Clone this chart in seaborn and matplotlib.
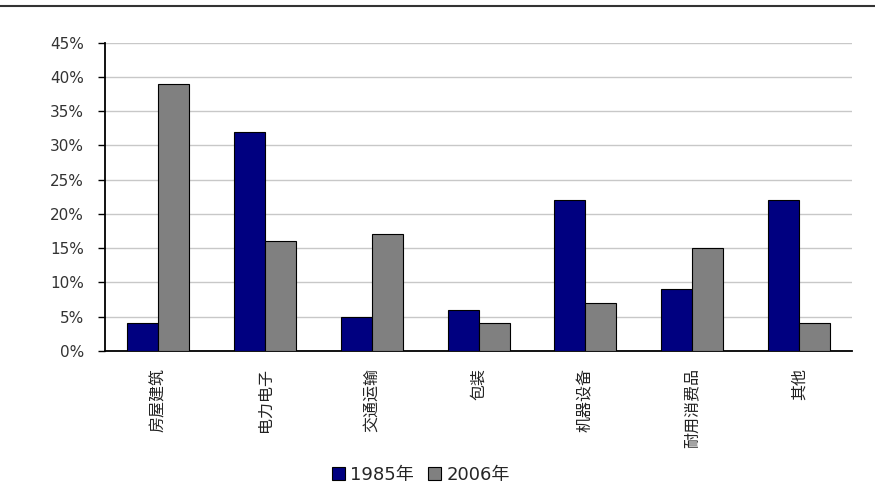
import numpy as np
import pandas as pd
import matplotlib
matplotlib.use("Agg")
import matplotlib.pyplot as plt
import seaborn as sns
from matplotlib.ticker import PercentFormatter

sns.set_style("white")
plt.rcParams['font.family'] = ['DejaVu Sans', 'Noto Sans CJK SC']

# Data
categories = ['房屋建筑', '电力电子', '交通运输', '包装', '机器设备', '耐用消费品', '其他']
share_1985 = [4, 32, 5, 6, 22, 9, 22]
share_2006 = [39, 16, 17, 4, 7, 15, 4]
series = ['1985年', '2006年']
colors = ['#000080', '#808080']

df = pd.DataFrame({
    'category': categories * 2,
    'share': share_1985 + share_2006,
    'year': [series[0]] * len(categories) + [series[1]] * len(categories),
})

fig = plt.figure(figsize=(8.75, 4.97), dpi=100)
ax = fig.add_axes([0.12, 0.294, 0.854, 0.62])

sns.barplot(data=df, x='category', y='share', hue='year', palette=colors,
            width=0.58, gap=0, edgecolor='black', linewidth=0.8, ax=ax,
            saturation=1, zorder=3)

ax.set_ylim(0, 45)
ax.set_yticks(np.arange(0, 46, 5))
ax.yaxis.set_major_formatter(PercentFormatter(decimals=0))
ax.yaxis.grid(True, color='#c8c8c8', linewidth=1, zorder=0)
ax.set_xlim(-0.5, len(categories) - 0.5)
ax.set_xlabel('')
ax.set_ylabel('')

for side in ['top', 'right']:
    ax.spines[side].set_visible(False)
for side in ['left', 'bottom']:
    ax.spines[side].set_color('black')
    ax.spines[side].set_linewidth(1.3)

ax.tick_params(axis='y', direction='out', length=5, width=1, color='black',
               labelsize=11, labelcolor='#333333', pad=10, left=True)
ax.tick_params(axis='x', length=0, pad=12)
ax.set_xticks(range(len(categories)))
ax.set_xticklabels(categories, rotation=90, va='top', ha='center', fontsize=11.5,
                   color='#222222', family=['Noto Sans CJK SC', 'DejaVu Sans'])

ax.legend(loc='upper center', bbox_to_anchor=(0.423, -0.35), ncol=2, frameon=False,
          fontsize=13, handlelength=0.7, handleheight=0.7, handletextpad=0.3,
          columnspacing=0.8, borderaxespad=0)

# top rule across the page
fig.add_artist(plt.Line2D([0.0, 1.0], [0.988, 0.988], color='#333333', linewidth=1.5,
                          transform=fig.transFigure))

fig.savefig('out.png', dpi=100)
